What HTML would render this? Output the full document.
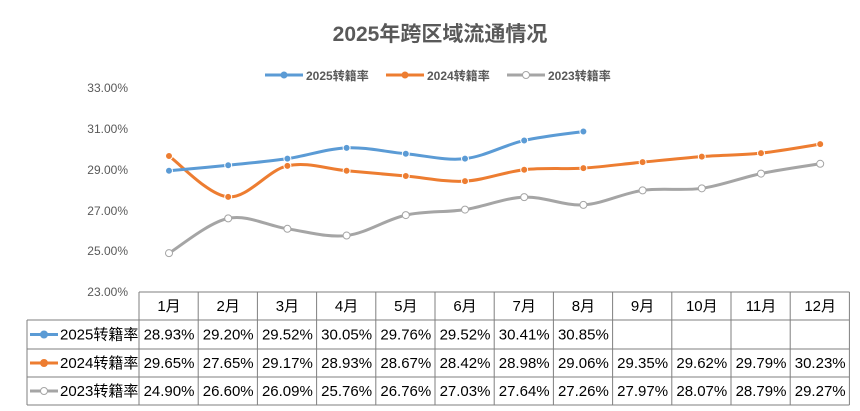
<!DOCTYPE html>
<html><head><meta charset="utf-8"><style>
body{margin:0;background:#fff;}
svg text{font-family:"Liberation Sans","Noto Sans CJK SC",sans-serif;}
</style></head><body>
<svg id="s" width="860" height="406" xmlns="http://www.w3.org/2000/svg">
<text x="440" y="41" text-anchor="middle" font-size="21" font-weight="bold" fill="#595959">2025年跨区域流通情况</text>
<g font-size="12" fill="#595959" font-weight="bold">
<line x1="265" y1="75" x2="303" y2="75" stroke="#5B9BD5" stroke-width="3"/><circle cx="284" cy="75" r="3.5" fill="#5B9BD5"/>
<text x="306" y="80">2025转籍率</text>
<line x1="386" y1="75" x2="424" y2="75" stroke="#ED7D31" stroke-width="3"/><circle cx="405" cy="75" r="3.5" fill="#ED7D31"/>
<text x="427" y="80">2024转籍率</text>
<line x1="507" y1="75" x2="545" y2="75" stroke="#A5A5A5" stroke-width="3"/><circle cx="526" cy="75" r="3.5" fill="#fff" stroke="#A5A5A5"/>
<text x="548" y="80">2023转籍率</text>
</g>
<g font-size="12" fill="#595959" text-anchor="end">
<text x="128" y="92">33.00%</text><text x="128" y="133">31.00%</text><text x="128" y="174">29.00%</text>
<text x="128" y="215">27.00%</text><text x="128" y="255">25.00%</text><text x="128" y="296">23.00%</text>
</g>
<g id="series"></g>
<g id="tbl" stroke="#7f7f7f" stroke-width="1" fill="none"></g>
<g id="tt" font-size="15" fill="#000" text-anchor="middle"></g>
</svg>
<script>
var ns="http://www.w3.org/2000/svg";
var d=[[28.93,29.20,29.52,30.05,29.76,29.52,30.41,30.85],
[29.65,27.65,29.17,28.93,28.67,28.42,28.98,29.06,29.35,29.62,29.79,30.23],
[24.90,26.60,26.09,25.76,26.76,27.03,27.64,27.26,27.97,28.07,28.79,29.27]];
var col=["#5B9BD5","#ED7D31","#A5A5A5"];
function X(i){return 169+i*59.2;}function Y(v){return 292-(v-23)*20.45;}
var g=document.getElementById("series");
function el(t,a,p){var e=document.createElementNS(ns,t);for(var k in a)e.setAttribute(k,a[k]);(p||g).appendChild(e);return e;}
for(var s=2;s>=0;s--){var p=d[s].map(function(v,i){return[X(i),Y(v)]});
var str="M"+p[0][0]+","+p[0][1];
for(var i=0;i<p.length-1;i++){var p0=p[i-1]||p[i],p1=p[i],p2=p[i+1],p3=p[i+2]||p2;
str+=" C"+(p1[0]+(p2[0]-p0[0])/6)+","+(p1[1]+(p2[1]-p0[1])/6)+" "+(p2[0]-(p3[0]-p1[0])/6)+","+(p2[1]-(p3[1]-p1[1])/6)+" "+p2[0]+","+p2[1];}
el("path",{d:str,stroke:col[s],"stroke-width":3,fill:"none"});
p.forEach(function(q){el("circle",{cx:q[0],cy:q[1],r:3.5,fill:s==2?"#fff":col[s],stroke:s==2?col[s]:"#fff","stroke-width":1});});}
var t=document.getElementById("tbl"),tt=document.getElementById("tt");
var rows=[292,320,349,377,405];
for(var c=0;c<=12;c++){var x=139+c*59.2;el("line",{x1:x,y1:292,x2:x,y2:405},t);}
el("line",{x1:27,y1:320,x2:27,y2:405},t);
el("line",{x1:139,y1:292,x2:849.4,y2:292},t);
for(var r=1;r<5;r++)el("line",{x1:27,y1:rows[r],x2:849.4,y2:rows[r]},t);
for(var c=0;c<12;c++){var e=el("text",{x:X(c),y:311},tt);e.textContent=(c+1)+"月";}
var names=["2025转籍率","2024转籍率","2023转籍率"];
for(var s=0;s<3;s++){var cy=(rows[s+1]+rows[s+2])/2;
el("line",{x1:30,y1:cy,x2:58,y2:cy,stroke:col[s],"stroke-width":3},tt);
el("circle",{cx:44,cy:cy,r:3.5,fill:s==2?"#fff":col[s],stroke:col[s]},tt);
var n=el("text",{x:60,y:cy+5,"text-anchor":"start"},tt);n.textContent=names[s];
d[s].forEach(function(v,i){var e=el("text",{x:X(i),y:cy+5},tt);e.textContent=v.toFixed(2)+"%";});}
</script>
</body></html>
